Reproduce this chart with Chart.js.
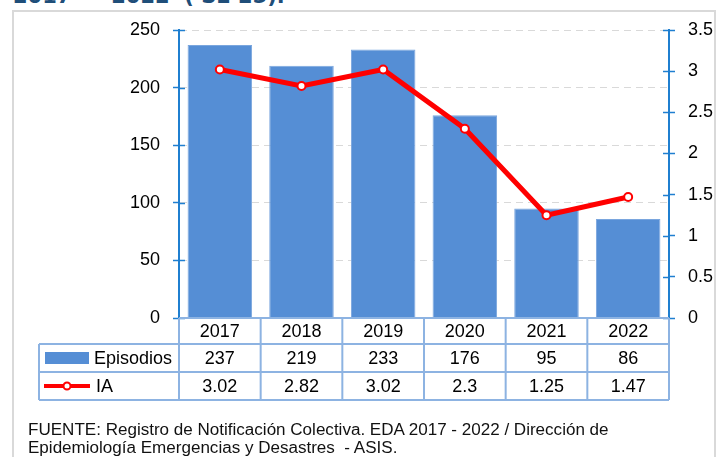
<!DOCTYPE html>
<html>
<head>
<meta charset="utf-8">
<script src="https://cdn.jsdelivr.net/npm/chart.js@4.4.0/dist/chart.umd.min.js"></script>
<style>
  html, body { margin: 0; padding: 0; background: #fff; overflow: hidden; }
  #wrap { position: relative; width: 718px; height: 457px; }
  #frame { position: absolute; left: 12px; top: 10px; width: 704px; height: 460px; border: 2px solid #d9d9d9; box-sizing: border-box; }
  #title { position: absolute; left: 13px; top: -16px; font: bold 21px "DejaVu Sans"; color: #1f4e79; white-space: pre; }
  canvas { position: absolute; left: 0; top: 0; }
  #source { position: absolute; left: 28px; top: 421px; font: 16px "Liberation Sans"; line-height: 18px; color: #111; white-space: pre; transform: scaleX(1.065); transform-origin: left top; }
</style>
</head>
<body>
<div id="wrap">
  <div id="title">2017  –  2022  ( SE 25).</div>
  <div id="frame"></div>
  <canvas id="canvas" width="718" height="457"></canvas>
  <div id="source">FUENTE: Registro de Notificación Colectiva. EDA 2017 - 2022 / Dirección de
Epidemiología Emergencias y Desastres  - ASIS.</div>
</div>
<script>
// data
const years = ['2017', '2018', '2019', '2020', '2021', '2022'];
const episodios = [237, 219, 233, 176, 95, 86];
const ia = [3.02, 2.82, 3.02, 2.3, 1.25, 1.47];

const axisBlue = '#1f7fd0';
const tableLine = '#8db3e2';
const font = { family: 'Liberation Sans', size: 18 };

// draws the tick stubs on the inner side of both axes
const innerTicks = {
  id: 'innerTicks',
  afterDatasetsDraw(chart) {
    const ctx = chart.ctx;
    ctx.save();
    ctx.strokeStyle = axisBlue;
    ctx.lineWidth = 1.5;
    for (const id of ['y', 'y1']) {
      const s = chart.scales[id];
      const dir = id === 'y' ? 1 : -1;
      const x0 = id === 'y' ? s.right : s.left;
      s.ticks.forEach(t => {
        const py = Math.round(s.getPixelForValue(t.value)) + 0.5;
        ctx.beginPath();
        ctx.moveTo(x0, py);
        ctx.lineTo(x0 + dir * 6, py);
        ctx.stroke();
      });
    }
    ctx.restore();
  }
};

// data table under the plot
const dataTable = {
  id: 'dataTable',
  afterDraw(chart) {
    const ctx = chart.ctx;
    const xs = chart.scales.x;
    const area = chart.chartArea;
    const half = (xs.getPixelForValue(1) - xs.getPixelForValue(0)) / 2;
    const top = area.bottom, r1 = top + 26, r2 = r1 + 28, r3 = r2 + 28;
    const labelLeft = 39;

    ctx.save();
    ctx.strokeStyle = tableLine;
    ctx.lineWidth = 2;
    ctx.beginPath();
    ctx.moveTo(area.left, top); ctx.lineTo(area.right, top);
    [r1, r2, r3].forEach(y => { ctx.moveTo(labelLeft, y); ctx.lineTo(area.right, y); });
    ctx.moveTo(labelLeft, r1); ctx.lineTo(labelLeft, r3);
    for (let i = 0; i <= years.length; i++) {
      const x = xs.getPixelForValue(0) - half + i * 2 * half;
      ctx.moveTo(x, top); ctx.lineTo(x, r3);
    }
    ctx.stroke();

    ctx.fillStyle = '#000';
    ctx.font = '18px "Liberation Sans"';
    ctx.textAlign = 'center';
    ctx.textBaseline = 'middle';
    years.forEach((y, i) => {
      const x = xs.getPixelForValue(i);
      ctx.fillText(y, x, (top + r1) / 2 + 1);
      ctx.fillText(String(episodios[i]), x, (r1 + r2) / 2 + 1);
      ctx.fillText(String(ia[i]), x, (r2 + r3) / 2 + 1);
    });

    // legend keys
    ctx.textAlign = 'left';
    ctx.fillStyle = '#558ed5';
    ctx.fillRect(45, r1 + 8, 44, 12);
    ctx.fillStyle = '#000';
    ctx.fillText('Episodios', 94, (r1 + r2) / 2 + 1);
    const ly = (r2 + r3) / 2;
    ctx.strokeStyle = '#ff0000';
    ctx.lineWidth = 4;
    ctx.beginPath(); ctx.moveTo(44, ly); ctx.lineTo(90, ly); ctx.stroke();
    ctx.beginPath(); ctx.arc(67, ly, 3.5, 0, Math.PI * 2);
    ctx.fillStyle = '#fff'; ctx.fill();
    ctx.lineWidth = 2; ctx.stroke();
    ctx.fillStyle = '#000';
    ctx.fillText('IA', 96, ly + 1);
    ctx.restore();
  }
};

new Chart(document.getElementById('canvas'), {
  data: {
    labels: years,
    datasets: [
      {
        type: 'line',
        label: 'IA',
        data: ia,
        yAxisID: 'y1',
        borderColor: '#ff0000',
        borderWidth: 5,
        pointRadius: 4,
        pointBorderWidth: 2,
        pointBackgroundColor: '#ffffff',
        pointBorderColor: '#ff0000',
        tension: 0,
        order: 0
      },
      {
        type: 'bar',
        label: 'Episodios',
        data: episodios,
        yAxisID: 'y',
        backgroundColor: '#558ed5',
        borderColor: '#7aa6de',
        borderWidth: 1,
        categoryPercentage: 1,
        barPercentage: 0.79,
        order: 1
      }
    ]
  },
  options: {
    responsive: false,
    animation: false,
    layout: { padding: { top: 30, bottom: 139, left: 0, right: 0 } },
    plugins: { legend: { display: false }, tooltip: { enabled: false } },
    scales: {
      x: { type: 'category', display: false },
      y: {
        position: 'left',
        min: 0, max: 250,
        ticks: { stepSize: 50, color: '#000', font: font, padding: 13 },
        grid: { color: '#d9d9d9', tickColor: axisBlue, tickLength: 6, tickWidth: 1.5 },
        border: { color: axisBlue, width: 2, dash: [7, 5] },
        afterFit(s) { s.width = 179; }
      },
      y1: {
        position: 'right',
        min: 0, max: 3.5,
        ticks: { stepSize: 0.5, color: '#000', font: font, padding: 13, callback: v => String(v) },
        grid: { drawOnChartArea: false, tickColor: axisBlue, tickLength: 6, tickWidth: 1.5 },
        border: { color: axisBlue, width: 2 },
        afterFit(s) { s.width = 49; }
      }
    }
  },
  plugins: [innerTicks, dataTable]
});
</script>
</body>
</html>
